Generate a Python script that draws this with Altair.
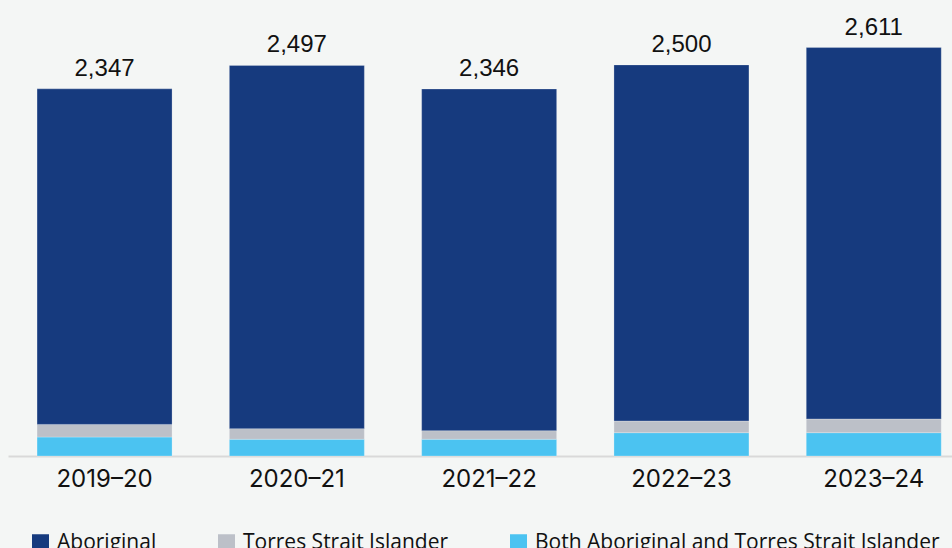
import altair as alt
import pandas as pd

years = ["2019–20", "2020–21", "2021–22", "2022–23", "2023–24"]
aboriginal = [2145, 2322, 2184, 2276, 2374]
torres = [81, 68, 55, 75, 88]
both = [121, 107, 107, 149, 149]
totals = [2347, 2497, 2346, 2500, 2611]
groups = ["Aboriginal", "Torres Strait Islander", "Both Aboriginal and Torres Strait Islander"]
colors = ["#163a7e", "#bcc0c8", "#4bc3f1"]

rows = []
for i, y in enumerate(years):
    for g, vals, o in [(groups[2], both, 0), (groups[1], torres, 1), (groups[0], aboriginal, 2)]:
        rows.append({"year": y, "group": g, "value": vals[i], "ord": o})
df = pd.DataFrame(rows)
tot = pd.DataFrame({"year": years, "total": totals})

xscale = alt.Scale(domain=years, paddingInner=0.298, paddingOuter=0.1035, align=0.73)
yscale = alt.Scale(domain=[0, 2800])

bars = alt.Chart(df).mark_bar(stroke="#ffffff", strokeWidth=0.6, strokeOpacity=0.4).encode(
    x=alt.X("year:N", scale=xscale, sort=years,
            axis=alt.Axis(title=None, labelAngle=0, labelFont="Inter", labelFontSize=24,
                          labelColor="#111111", labelPadding=11, ticks=False,
                          domainColor="#d9d9d9", domainWidth=2)),
    y=alt.Y("value:Q", scale=yscale, stack="zero", axis=None),
    color=alt.Color("group:N", scale=alt.Scale(domain=groups, range=colors),
                    legend=alt.Legend(title=None, orient="none", direction="horizontal",
                                      legendX=22, legendY=514, padding=0,
                                      symbolType="square", symbolSize=289,
                                      symbolStrokeWidth=0, labelFont="Open Sans",
                                      labelFontSize=21, labelColor="#111111",
                                      labelOffset=6, columnPadding=59, labelLimit=600)),
    order=alt.Order("ord:Q", sort="ascending"),
)

labels = alt.Chart(tot).mark_text(font="Liberation Sans", fontSize=24, color="#111111",
                                  baseline="alphabetic", dy=-13).encode(
    x=alt.X("year:N", scale=xscale, sort=years),
    y=alt.Y("total:Q", scale=yscale),
    text=alt.Text("total:Q", format=","),
)

chart = alt.layer(bars, labels).properties(
    width=944, height=438,
    padding={"left": 8, "top": 18, "right": 0, "bottom": 92},
    autosize=alt.AutoSizeParams(type="none"),
    background="#f4f6f5",
).configure_view(stroke=None)

chart.save("out.html", embed_options={"renderer": "svg", "actions": False})
